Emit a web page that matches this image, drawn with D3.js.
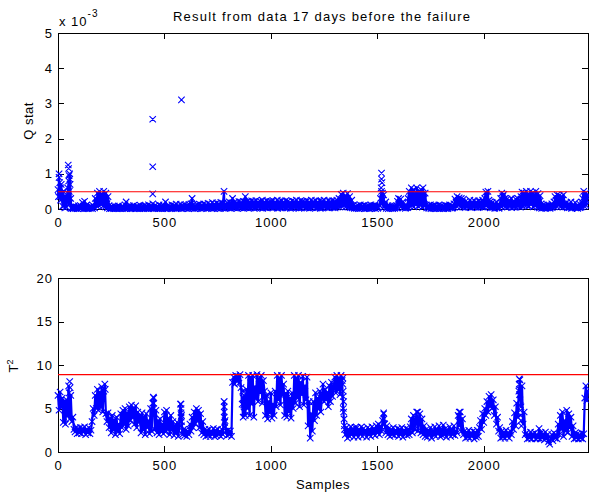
<!DOCTYPE html>
<html><head><meta charset="utf-8">
<script src="https://cdn.jsdelivr.net/npm/d3@7"></script>
<style>
html,body{margin:0;padding:0;background:#fff;}
svg{display:block;}
text{font-family:"Liberation Sans",Arial,Helvetica,sans-serif;fill:#000;}
</style></head>
<body><svg id="c" width="589" height="492"></svg>
<script>
// ---- data ----
const title = "Result from data 17 days before the failure";
const sampleStep = 5;           // main series: one value every 5 samples
const baseStep = 10;            // low-level Q readings: every 10 samples
const xTicks = [0, 500, 1000, 1500, 2000];
const qTicks = [0, 1, 2, 3, 4, 5];
const tTicks = [0, 5, 10, 15, 20];
const qLimit = 0.49;   // x 10^-3
const tLimit = 8.9;

// Q statistic (x 10^-3), samples 0,5,10,...
const qValues = [
0.55,0.9,0.35,0.7,0.3,0.5,0.1,0.35,0.05,0.45,0.8,1.0,0.3,0.05,0.02,0.08,0.03,0.06,0.02,0.09,
0.04,0.1,0.02,0.18,0.08,0.22,0.05,0.12,0.02,0.06,0.03,0.08,0.04,0.1,0.05,0.3,0.15,0.45,0.2,0.5,
0.25,0.42,0.18,0.5,0.3,0.45,0.15,0.35,0.1,0.05,0.02,0.07,0.03,0.08,0.02,0.06,0.04,0.09,0.02,0.05,
0.03,0.08,0.05,0.12,0.2,0.06,0.03,0.09,0.02,0.07,0.04,0.1,0.03,0.06,0.02,0.08,0.05,0.11,0.03,0.07,
0.04,0.1,0.02,0.08,0.05,0.12,0.03,0.09,0.06,0.15,0.04,0.1,0.03,0.07,0.05,0.12,0.02,0.09,0.04,0.11,
0.06,0.2,0.04,0.1,0.03,0.08,0.05,0.12,0.03,0.1,0.06,0.14,0.04,0.09,0.05,0.13,0.03,0.1,0.06,0.12,
0.04,0.1,0.06,0.13,0.05,0.15,0.3,0.12,0.05,0.1,0.04,0.12,0.06,0.14,0.05,0.11,0.07,0.15,0.05,0.12,
0.06,0.16,0.05,0.13,0.08,0.18,0.06,0.14,0.07,0.17,0.05,0.15,0.08,0.19,0.06,0.16,0.5,0.12,0.07,0.18,
0.08,0.2,0.06,0.17,0.3,0.1,0.2,0.07,0.18,0.09,0.21,0.06,0.19,0.1,0.22,0.08,0.35,0.15,0.22,0.09,
0.2,0.1,0.23,0.08,0.21,0.12,0.24,0.09,0.2,0.13,0.22,0.07,0.25,0.11,0.2,0.14,0.23,0.09,0.21,0.12,
0.22,0.1,0.24,0.08,0.2,0.13,0.25,0.09,0.21,0.12,0.23,0.07,0.2,0.14,0.24,0.1,0.22,0.08,0.19,0.12,
0.23,0.09,0.21,0.13,0.25,0.08,0.2,0.12,0.24,0.1,0.22,0.07,0.21,0.14,0.23,0.09,0.2,0.12,0.25,0.1,
0.21,0.08,0.24,0.12,0.2,0.1,0.23,0.07,0.22,0.13,0.25,0.09,0.2,0.11,0.24,0.08,0.21,0.12,0.23,0.1,
0.22,0.09,0.25,0.12,0.3,0.15,0.42,0.2,0.45,0.25,0.38,0.15,0.44,0.2,0.35,0.1,0.25,0.08,0.12,0.05,
0.08,0.04,0.1,0.06,0.12,0.05,0.09,0.03,0.11,0.06,0.08,0.04,0.1,0.05,0.12,0.06,0.09,0.04,0.11,0.07,
0.08,0.05,0.1,0.3,0.5,0.25,0.4,0.12,0.2,0.06,0.1,0.04,0.08,0.05,0.09,0.04,0.07,0.05,0.1,0.22,
0.3,0.15,0.28,0.1,0.2,0.06,0.08,0.04,0.1,0.3,0.5,0.2,0.6,0.35,0.55,0.15,0.45,0.6,0.3,0.5,
0.25,0.55,0.4,0.6,0.3,0.45,0.12,0.06,0.1,0.05,0.12,0.04,0.09,0.06,0.11,0.05,0.08,0.04,0.12,0.06,
0.1,0.05,0.09,0.04,0.11,0.06,0.08,0.05,0.12,0.06,0.1,0.04,0.15,0.28,0.2,0.35,0.25,0.32,0.18,0.3,
0.2,0.28,0.12,0.22,0.1,0.18,0.14,0.25,0.11,0.2,0.15,0.24,0.1,0.19,0.13,0.23,0.11,0.21,0.15,0.25,
0.18,0.3,0.48,0.35,0.5,0.25,0.2,0.12,0.18,0.06,0.15,0.08,0.2,0.05,0.14,0.1,0.3,0.45,0.35,0.42,
0.3,0.15,0.28,0.12,0.25,0.1,0.3,0.14,0.22,0.1,0.28,0.15,0.3,0.12,0.25,0.35,0.48,0.3,0.45,0.2,
0.5,0.3,0.42,0.2,0.5,0.35,0.46,0.25,0.4,0.5,0.3,0.44,0.2,0.38,0.15,0.08,0.12,0.05,0.1,0.06,
0.12,0.05,0.1,0.06,0.15,0.08,0.2,0.35,0.25,0.4,0.3,0.38,0.2,0.35,0.25,0.4,0.15,0.08,0.18,0.06,
0.15,0.08,0.2,0.05,0.12,0.06,0.18,0.04,0.1,0.06,0.15,0.05,0.2,0.3,0.5,0.35,0.45,0.25,0.4
];

// low-level Q readings (x 10^-3), samples 2,12,22,...
const qBase = [
0.35,0.25,0.08,0.03,0.2,0.15,0.02,0.01,0.02,0.01,
0.02,0.03,0.01,0.02,0.01,0.02,0.01,0.03,0.08,0.1,
0.12,0.08,0.06,0.03,0.01,0.02,0.01,0.02,0.01,0.02,
0.01,0.02,0.01,0.03,0.01,0.02,0.01,0.02,0.01,0.02,
0.01,0.02,0.01,0.03,0.02,0.01,0.02,0.01,0.02,0.01,
0.02,0.01,0.03,0.01,0.02,0.01,0.02,0.03,0.01,0.02,
0.02,0.01,0.03,0.02,0.01,0.02,0.03,0.01,0.02,0.03,
0.02,0.03,0.01,0.02,0.03,0.02,0.01,0.03,0.02,0.03,
0.03,0.02,0.04,0.03,0.02,0.04,0.03,0.02,0.04,0.03,
0.03,0.04,0.02,0.03,0.05,0.03,0.02,0.04,0.03,0.05,
0.04,0.03,0.05,0.02,0.04,0.03,0.05,0.03,0.04,0.02,
0.03,0.05,0.04,0.02,0.03,0.05,0.04,0.03,0.02,0.04,
0.05,0.03,0.04,0.02,0.03,0.05,0.04,0.03,0.05,0.04,
0.03,0.05,0.06,0.08,0.1,0.06,0.05,0.04,0.03,0.02,
0.02,0.01,0.02,0.03,0.01,0.02,0.01,0.02,0.03,0.01,
0.02,0.1,0.15,0.05,0.02,0.01,0.02,0.01,0.02,0.03,
0.1,0.06,0.03,0.02,0.04,0.08,0.1,0.06,0.12,0.08,
0.1,0.05,0.08,0.03,0.02,0.01,0.02,0.01,0.02,0.01,
0.02,0.01,0.02,0.01,0.03,0.02,0.05,0.08,0.1,0.06,
0.05,0.04,0.06,0.05,0.04,0.06,0.05,0.04,0.05,0.06,
0.05,0.08,0.06,0.03,0.04,0.02,0.03,0.02,0.08,0.1,
0.06,0.05,0.07,0.04,0.06,0.05,0.07,0.05,0.08,0.1,
0.1,0.08,0.12,0.06,0.08,0.05,0.03,0.02,0.03,0.02,
0.03,0.02,0.04,0.06,0.08,0.1,0.07,0.05,0.06,0.03,
0.04,0.02,0.05,0.03,0.02,0.04,0.06,0.08,0.1
];

// isolated / stacked Q points
const qExtraSamples = [5,8,12,45,48,50,52,53,55,57,445,445,445,580,1518,1520,1520,1522,1525];
const qExtraValues  = [1.0,0.75,0.6,0.6,1.25,1.15,0.95,0.5,0.85,0.7,1.2,2.55,0.43,3.1,0.6,1.02,0.85,0.75,0.45];

// T^2 statistic, samples 0,5,10,...
const tValues = [
6.5,4.8,6.9,5.2,6.2,3.4,5.8,3.2,6.0,4.2,7.6,3.8,6.5,3.5,4.0,2.6,2.3,2.8,2.1,2.7,
2.2,2.8,2.1,2.7,2.3,2.9,2.0,2.6,2.2,2.8,2.1,2.5,3.5,5.0,4.2,6.5,5.0,7.2,4.8,6.8,
5.2,7.5,4.6,7.0,7.8,4.4,3.5,4.5,2.8,3.8,2.2,4.2,2.6,3.6,2.0,4.0,2.5,3.2,2.1,4.4,
2.8,4.8,3.2,5.0,2.6,4.5,3.0,5.2,3.6,5.4,4.0,5.0,3.2,5.3,2.8,4.6,3.4,4.2,2.2,4.5,
2.6,4.0,2.0,4.4,2.8,3.6,2.1,5.0,2.4,5.6,6.2,2.6,4.8,2.2,3.6,2.0,3.8,2.4,3.2,2.1,
4.6,2.3,4.8,2.6,3.8,2.0,4.2,2.5,3.5,1.9,3.0,2.2,3.4,1.8,2.8,5.5,4.2,2.0,2.6,1.9,
2.5,1.8,2.4,2.0,3.2,2.4,4.0,2.8,4.6,3.2,5.0,3.6,4.8,2.8,4.4,2.2,3.5,2.0,2.6,1.8,
2.5,1.9,2.6,1.8,2.4,2.0,2.7,1.8,2.5,1.9,2.6,2.0,2.4,1.8,2.6,2.0,5.8,3.6,2.4,1.9,
2.5,2.0,2.4,1.8,8.0,8.6,7.8,8.8,8.2,8.7,7.9,8.9,7.4,5.5,4.0,6.5,4.2,7.2,5.0,8.8,
4.2,8.6,5.5,8.8,4.0,7.5,6.2,8.9,5.8,8.4,6.8,8.8,5.6,8.2,7.0,4.2,6.5,3.8,5.8,4.5,
6.8,3.9,5.5,4.2,7.0,5.2,8.8,6.0,8.4,5.4,8.8,6.5,7.8,4.2,6.6,4.0,7.0,4.6,6.2,3.9,
6.8,5.0,8.8,5.6,8.4,6.2,8.8,5.2,8.0,6.6,8.7,5.4,7.6,6.0,8.6,3.0,5.8,1.6,4.4,2.4,
5.8,3.6,6.8,4.2,6.2,5.0,7.0,4.6,6.4,7.8,5.8,7.2,6.0,6.8,5.2,7.6,5.8,8.0,6.4,7.4,
8.6,6.8,8.8,7.2,8.4,6.6,8.8,8.2,5.0,3.0,2.0,2.8,1.6,2.6,1.8,2.9,2.0,2.7,1.7,2.8,
2.0,2.8,1.7,2.6,2.1,2.9,1.8,2.7,2.2,2.5,1.7,2.8,2.0,2.6,1.8,2.9,2.1,2.7,1.9,3.0,
2.2,3.2,2.0,3.0,2.4,3.6,4.5,3.2,2.2,3.0,2.0,2.7,1.8,2.6,2.0,2.8,1.9,2.5,2.1,2.7,
1.8,2.6,2.0,2.8,1.7,2.5,2.1,2.7,1.9,2.6,2.0,2.9,3.8,2.2,4.2,2.6,3.6,4.6,2.4,3.4,
4.4,2.2,3.8,2.0,3.0,1.8,2.6,1.7,2.5,2.0,2.8,1.6,2.4,2.0,2.9,1.8,2.6,2.1,3.0,1.8,
2.6,1.9,3.1,2.0,2.7,1.7,2.5,2.2,2.9,1.8,2.6,2.0,3.0,1.9,2.4,2.2,4.2,3.0,4.6,2.4,
3.8,2.0,2.4,1.6,2.3,1.7,2.5,1.6,2.2,1.8,2.4,1.5,2.3,1.7,2.5,1.8,2.8,3.6,2.6,4.4,
3.4,5.0,4.2,5.8,4.6,6.4,5.2,6.6,5.0,6.0,4.2,5.2,3.2,4.0,2.4,2.8,1.6,2.4,1.7,2.3,
1.6,2.5,1.8,2.2,1.6,2.4,2.0,3.5,2.6,4.5,3.0,5.6,4.0,7.0,8.3,5.2,7.6,3.2,4.6,2.0,
2.2,1.5,2.0,1.6,2.3,1.5,2.1,1.7,2.2,1.5,2.0,1.6,2.7,1.5,2.2,1.6,2.1,1.4,2.3,1.6,
2.0,1.2,0.9,1.5,2.0,1.3,2.2,1.6,2.0,1.5,3.2,2.0,4.2,2.6,4.6,1.8,3.6,2.4,4.8,2.2,
4.4,2.8,4.0,1.8,3.0,1.5,2.2,1.6,2.1,1.5,2.0,1.6,2.2,1.5,2.1,6.2,7.6,5.9,7.0
];

// isolated / stacked T^2 points
const tExtraSamples = [53,55,57,220,222,448,450,450,452,578,578,578,578,580,580,781,781,781,781,783,783,868,870,872,874,1338,1338,1340,1340,1342,1342,1344,1346,1530,1531,1532,1688,1690,1692,1885,1886,1887,1888,2167,2167,2168,2168,2170,2170,2172,2174,2175,2177];
const tExtraValues  = [6.8,8.1,7.4,7.8,7.2,6.3,5.6,5.0,4.4,5.5,5.0,4.5,4.0,3.5,3.0,5.8,5.2,4.6,4.0,3.4,2.8,7.0,6.2,5.4,4.6,8.5,7.8,7.0,6.4,5.8,4.6,3.8,2.6,4.4,3.8,3.3,3.4,4.6,4.0,4.6,4.1,3.6,3.1,8.4,7.8,7.2,6.6,6.0,5.4,4.8,4.2,3.6,3.0];

// ---- drawing ----
const svg = d3.select("#c");
const L = 58, R = 588;
const blue = "#0000ff";
const x = d3.scaleLinear().domain([0, 2490]).range([L, R]);
const yQ = d3.scaleLinear().domain([0, 5]).range([209, 33]);
const yT = d3.scaleLinear().domain([0, 20]).range([452, 278]);

function xMarks(pts, y) {
  const s = 3.2;
  return pts.map(p => {
    const px = x(p[0]), py = y(p[1]);
    return `M${px - s},${py - s}L${px + s},${py + s}M${px - s},${py + s}L${px + s},${py - s}`;
  }).join("");
}

function panel(y, ticks, mainVals, extraS, extraV, limit, base) {
  const top = y.range()[1], bot = y.range()[0];
  const pts = mainVals.map((v, i) => [i * sampleStep, v]);
  if (base) base.forEach((v, i) => pts.push([i * baseStep + 2, v]));
  pts.sort((a, b) => a[0] - b[0]);
  const extra = extraS.map((s, i) => [s, extraV[i]]);
  const g = svg.append("g");
  const ax = (gen, tr) => g.append("g").attr("transform", tr).call(gen);
  const fmt = d3.format("d");
  const b = ax(d3.axisBottom(x).tickValues(xTicks).tickFormat(fmt).tickSizeInner(-6).tickSizeOuter(0).tickPadding(9), `translate(0,${bot})`);
  const t = ax(d3.axisTop(x).tickValues(xTicks).tickFormat("").tickSizeInner(-6).tickSizeOuter(0), `translate(0,${top})`);
  const l = ax(d3.axisLeft(y).tickValues(ticks).tickFormat(fmt).tickSizeInner(-6).tickSizeOuter(0).tickPadding(5), `translate(${L},0)`);
  const r = ax(d3.axisRight(y).tickValues(ticks).tickFormat("").tickSizeInner(-6).tickSizeOuter(0), `translate(${R},0)`);
  [b, t, l, r].forEach(a => {
    a.select(".domain").remove();
    a.selectAll("line").attr("stroke", "#000").attr("shape-rendering", "crispEdges");
    a.selectAll("text").attr("font-size", 13).attr("font-family", "Liberation Sans, Arial, sans-serif").attr("letter-spacing", "1px").attr("fill", "#000");
  });
  g.append("rect").attr("x", L).attr("y", top).attr("width", R - L).attr("height", bot - top)
    .attr("fill", "none").attr("stroke", "#000").attr("stroke-width", 1).attr("shape-rendering", "crispEdges");
  // dense trace of consecutive readings
  g.append("path").attr("d", d3.line().x(d => x(d[0])).y(d => y(d[1]))(pts))
    .attr("fill", "none").attr("stroke", blue).attr("stroke-width", 2.2).attr("stroke-linejoin", "round");
  // x markers
  g.append("path").attr("d", xMarks(pts.concat(extra), y)).attr("fill", "none").attr("stroke", blue).attr("stroke-width", 1.1);
  // control limit
  g.append("line").attr("x1", L).attr("x2", R).attr("y1", y(limit)).attr("y2", y(limit))
    .attr("stroke", "#ff0000").attr("stroke-width", 1.2);
}

panel(yQ, qTicks, qValues, qExtraSamples, qExtraValues, qLimit, qBase);
panel(yT, tTicks, tValues, tExtraSamples, tExtraValues, tLimit, null);

// texts
svg.append("text").attr("x", 173).attr("y", 21).attr("font-size", 13)
  .attr("textLength", 297).attr("lengthAdjust", "spacing").text(title);
const ex = svg.append("text").attr("x", 59).attr("y", 26).attr("font-size", 13).attr("letter-spacing", "1px");
ex.append("tspan").text("x 10");
ex.append("tspan").attr("font-size", 10).attr("dy", -9).text("-3");
svg.append("text").attr("transform", "translate(33,121) rotate(-90)").attr("text-anchor", "middle")
  .attr("font-size", 13).attr("letter-spacing", "0.5px").text("Q stat");
const tl = svg.append("text").attr("transform", "translate(18,366) rotate(-90)").attr("text-anchor", "middle").attr("font-size", 13);
tl.append("tspan").text("T");
tl.append("tspan").attr("font-size", 9).attr("dy", -5).text("2");
svg.append("text").attr("x", 323).attr("y", 489).attr("text-anchor", "middle").attr("font-size", 13)
  .attr("letter-spacing", "0.5px").text("Samples");
</script></body></html>
